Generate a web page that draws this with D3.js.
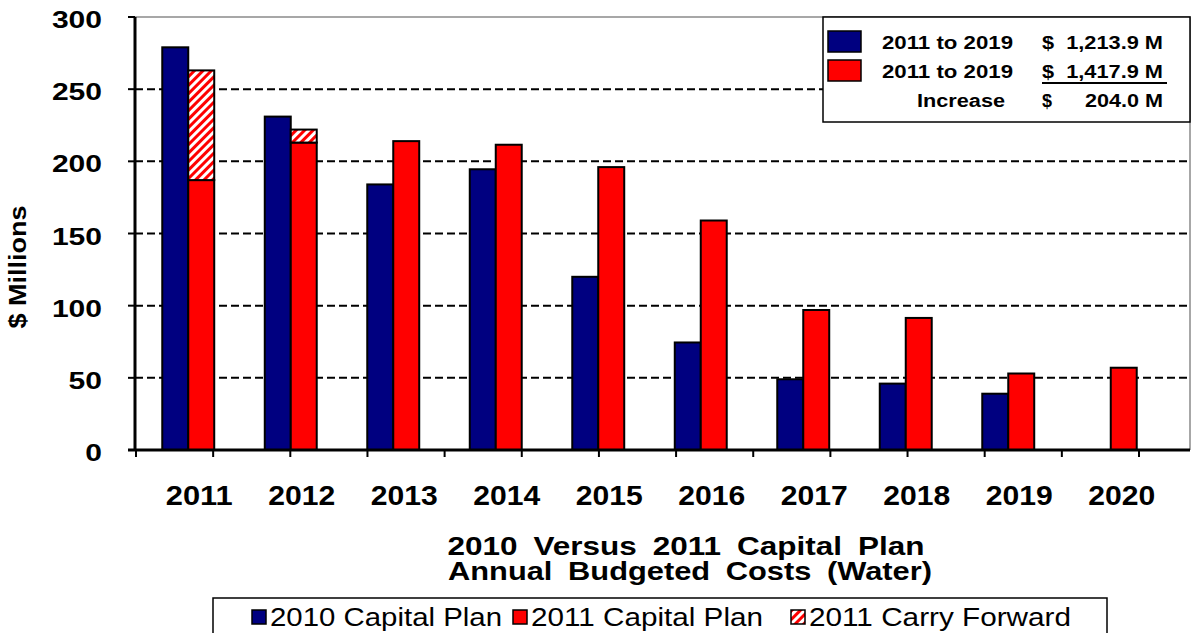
<!DOCTYPE html>
<html><head><meta charset="utf-8">
<script src="https://cdn.jsdelivr.net/npm/d3@7"></script>
<style>body{margin:0;background:#fff;} svg{display:block;font-family:"Liberation Sans",Arial,Helvetica,sans-serif;}</style>
</head><body><svg id="c" width="1193" height="633"></svg>
<script>
const years = ["2011","2012","2013","2014","2015","2016","2017","2018","2019","2020"];
const plan2010 = [279, 231, 184, 194.5, 120, 74.5, 49, 46, 39, null];
const plan2011 = [187, 213, 214, 211.5, 196, 159, 97, 91.5, 53, 57];
const carryForward = [76, 9, 0, 0, 0, 0, 0, 0, 0, 0];
const yTicks = [0, 50, 100, 150, 200, 250, 300];
const summaryLabels = ["2011 to 2019", "2011 to 2019", "Increase"];
const summaryValues = ["$  1,213.9 M", "$  1,417.9 M", "204.0 M"];
const legendLabels = ["2010 Capital Plan", "2011 Capital Plan", "2011 Carry Forward"];
const titleLines = ["2010 Versus 2011 Capital Plan", "Annual Budgeted Costs (Water)"];
const yTitle = "$ Millions";

const BLUE = "#000080", RED = "#ff0000";
const L = 135, R = 1190, T = 17, B = 450;
const svg = d3.select("#c");

const defs = svg.append("defs");
const pat = defs.append("pattern").attr("id","hatch").attr("patternUnits","userSpaceOnUse")
  .attr("width",6).attr("height",6).attr("patternTransform","rotate(45)");
pat.append("rect").attr("width",6).attr("height",6).attr("fill","#fff");
pat.append("rect").attr("width",3).attr("height",6).attr("fill",RED);

const y = d3.scaleLinear().domain([0,300]).range([B,T]);
const x = d3.scaleBand().domain(years).range([137,1162]).paddingInner(0.493).paddingOuter(0.2465);
const sub = d3.scaleBand().domain(["a","b"]).range([0, x.bandwidth()]);
const tickScale = d3.scaleLinear().domain([0,13]).range([136,1139]);

// plot border (top/right)
svg.append("path").attr("d",`M${L},${T}H${R}V${B}`).attr("fill","none").attr("stroke","#8a8a8a").attr("stroke-width",1.5);

// gridlines
svg.append("g").selectAll("line").data(yTicks.filter(v=>v>0 && v<300)).join("line")
  .attr("x1",L).attr("x2",R).attr("y1",d=>y(d)).attr("y2",d=>y(d))
  .attr("stroke","#000").attr("stroke-width",2).attr("stroke-dasharray","8,4");

// bars
const g = svg.append("g").attr("stroke","#000").attr("stroke-width",2);
years.forEach((yr,i)=>{
  if (plan2010[i] != null) {
    g.append("rect").attr("x",x(yr)+sub("a")).attr("width",sub.bandwidth())
      .attr("y",y(plan2010[i])).attr("height",y(0)-y(plan2010[i])).attr("fill",BLUE);
  }
  g.append("rect").attr("x",x(yr)+sub("b")).attr("width",sub.bandwidth())
    .attr("y",y(plan2011[i])).attr("height",y(0)-y(plan2011[i])).attr("fill",RED);
  if (carryForward[i] > 0) {
    const top = plan2011[i]+carryForward[i];
    g.append("rect").attr("x",x(yr)+sub("b")).attr("width",sub.bandwidth())
      .attr("y",y(top)).attr("height",y(plan2011[i])-y(top)).attr("fill","url(#hatch)");
  }
});

// axes
svg.append("line").attr("x1",L).attr("x2",L).attr("y1",T).attr("y2",B+1).attr("stroke","#000").attr("stroke-width",3);
svg.append("line").attr("x1",128).attr("x2",R).attr("y1",B).attr("y2",B).attr("stroke","#000").attr("stroke-width",3);
svg.append("g").selectAll("line").data(yTicks).join("line")
  .attr("x1",128).attr("x2",L).attr("y1",d=>y(d)).attr("y2",d=>y(d)).attr("stroke","#000").attr("stroke-width",2);
svg.append("g").selectAll("line").data(d3.range(14)).join("line")
  .attr("x1",d=>tickScale(d)).attr("x2",d=>tickScale(d)).attr("y1",B).attr("y2",B+7).attr("stroke","#000").attr("stroke-width",2);

// y labels
svg.append("g").selectAll("text").data(yTicks).join("text")
  .attr("x",102).attr("y",d=>y(d)+11).attr("text-anchor","end")
  .attr("font-size",24).attr("font-weight","bold")
  .attr("textLength",d=>String(d).length*16.7).attr("lengthAdjust","spacingAndGlyphs")
  .text(d=>d);
svg.append("text").attr("transform","translate(26,267) rotate(-90)").attr("text-anchor","middle")
  .attr("font-size",24).attr("font-weight","bold").attr("textLength",123).attr("lengthAdjust","spacingAndGlyphs")
  .text(yTitle);

// x labels
svg.append("g").selectAll("text").data(years).join("text")
  .attr("x",d=>x(d)+x.bandwidth()/2+11).attr("y",505).attr("text-anchor","middle")
  .attr("font-size",28).attr("font-weight","bold").attr("textLength",67).attr("lengthAdjust","spacingAndGlyphs")
  .text(d=>d);

// title
const titleY = [555, 580], titleW = [477, 484], titleX = [686, 690];
svg.append("g").selectAll("text").data(titleLines).join("text")
  .attr("x",(d,i)=>titleX[i]).attr("y",(d,i)=>titleY[i]).attr("text-anchor","middle")
  .attr("font-size",26).attr("font-weight","bold").attr("word-spacing",6)
  .attr("textLength",(d,i)=>titleW[i]).attr("lengthAdjust","spacingAndGlyphs")
  .text(d=>d);

// summary box
const sb = svg.append("g");
sb.append("rect").attr("x",823).attr("y",T).attr("width",R-823).attr("height",105).attr("fill","#fff").attr("stroke","#000").attr("stroke-width",1.5);
const rowY = [49, 78, 107];
[BLUE, RED].forEach((c,i)=>{
  sb.append("rect").attr("x",828).attr("y",rowY[i]-18).attr("width",33).attr("height",21).attr("fill",c).attr("stroke","#000").attr("stroke-width",1.5);
});
const labX = [882, 882, 917], labW = [131, 131, 88];
summaryLabels.forEach((t,i)=>{
  sb.append("text").attr("x",labX[i]).attr("y",rowY[i]).attr("font-size",18).attr("font-weight","bold")
    .attr("textLength",labW[i]).attr("lengthAdjust","spacingAndGlyphs").text(t);
});
const valX = [1042, 1042, 1085], valW = [121, 121, 78];
summaryValues.forEach((t,i)=>{
  sb.append("text").attr("x",valX[i]).attr("y",rowY[i]).attr("font-size",18).attr("font-weight","bold")
    .attr("xml:space","preserve").style("white-space","pre")
    .attr("textLength",valW[i]).attr("lengthAdjust","spacingAndGlyphs").text(t);
});
sb.append("text").attr("x",1042).attr("y",rowY[2]).attr("font-size",18).attr("font-weight","bold").text("$");
sb.append("line").attr("x1",1042).attr("x2",1167).attr("y1",rowY[1]+5).attr("y2",rowY[1]+5).attr("stroke","#000").attr("stroke-width",2);

// bottom legend
const lg = svg.append("g");
lg.append("rect").attr("x",213).attr("y",598).attr("width",894).attr("height",45).attr("fill","#fff").attr("stroke","#000").attr("stroke-width",1.5);
const sw = [252, 513, 791], tx = [270, 531, 809], tw = [232, 232, 262];
const fills = [BLUE, RED, "url(#hatch)"];
legendLabels.forEach((t,i)=>{
  lg.append("rect").attr("x",sw[i]).attr("y",610).attr("width",14).attr("height",14).attr("fill",fills[i]).attr("stroke","#000").attr("stroke-width",1.5);
  lg.append("text").attr("x",tx[i]).attr("y",626).attr("font-size",26)
    .attr("textLength",tw[i]).attr("lengthAdjust","spacingAndGlyphs").text(t);
});
</script></body></html>
